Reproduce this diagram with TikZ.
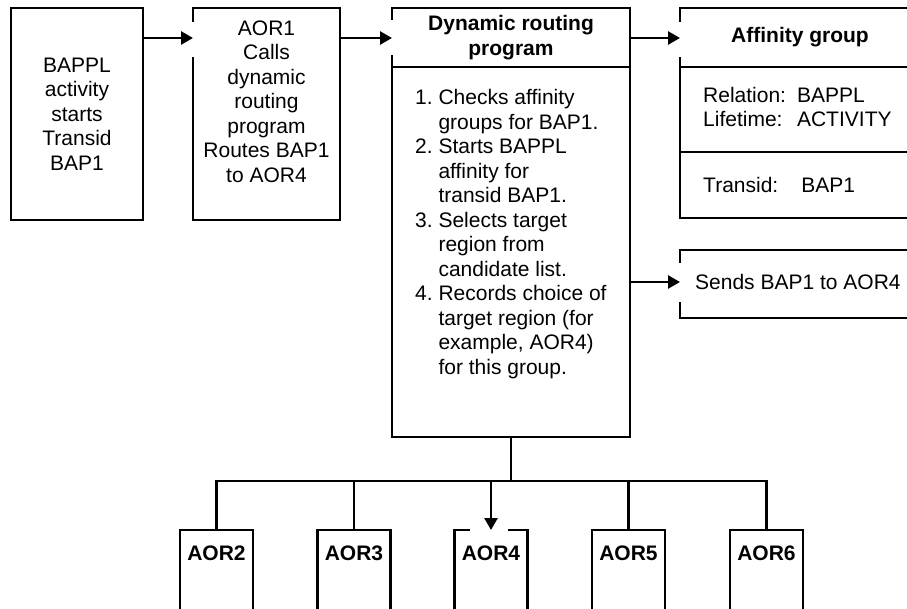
\documentclass[tikz,border=0pt]{standalone}
\usepackage{fontspec}
\setmainfont{Liberation Sans}
\usetikzlibrary{arrows.meta}
\begin{document}
\begin{tikzpicture}[x=1pt,y=-1pt,
  box/.style={draw, line width=2.7pt, outer sep=0pt, inner sep=0pt, anchor=north west},
  txt/.style={font=\fontsize{21}{24.5}\selectfont, inner sep=0pt, align=center},
  btxt/.style={font=\fontsize{21}{24.5}\selectfont\bfseries, inner sep=0pt, align=center},
  arr/.style={line width=2.7pt, -{Triangle[length=12pt,width=13pt]}},
  conn/.style={line width=2.7pt},
  hdr/.style={line width=2.3pt},
  gap/.style={fill=white, draw=none}]
\useasboundingbox (0,0) rectangle (907,609);
\clip (0,0) rectangle (907,609);

% boxes
\node[box, minimum width=132pt, minimum height=212pt] (b1) at (11,8) {};
\node[box, minimum width=147pt, minimum height=212pt] (b2) at (193,8) {};
\node[box, minimum width=238pt, minimum height=429pt] (b3) at (392,8) {};
\node[box, minimum width=300pt, minimum height=210pt] (b4) at (680,8) {};
\node[box, minimum width=300pt, minimum height=68pt] (b5) at (680,250) {};
\node[box, minimum width=73pt, minimum height=120pt] (a2) at (180,530) {};
\node[box, minimum width=73pt, minimum height=120pt] (a3) at (317.5,530) {};
\node[box, minimum width=73pt, minimum height=120pt] (a4) at (454.5,530) {};
\node[box, minimum width=73pt, minimum height=120pt] (a5) at (592,530) {};
\node[box, minimum width=73pt, minimum height=120pt] (a6) at (730,530) {};

% header separators
\draw[hdr] (b3.west |- 0,67) -- (b3.east |- 0,67);
\draw[hdr] (b4.west |- 0,67) -- (b4.east |- 0,67);
\draw[hdr] (b4.west |- 0,152) -- (b4.east |- 0,152);

% texts
\node[txt] (t1) at (77,114) {BAPPL\\activity\\starts\\Transid\\BAP1};
\node[txt] (t2) at (266.5,101.5) {AOR1\\Calls\\dynamic\\routing\\program\\Routes BAP1\\to AOR4};
\node[btxt] (t3) at (511,37.5) {Dynamic routing\\program};
\node[txt, anchor=north west] (l3) at (415,87.4) {\begin{tabular}{@{}l@{\hspace{5.8pt}}l@{}}
1.&Checks affinity\\
 &groups for BAP1.\\
2.&Starts BAPPL\\
 &affinity for\\
 &transid BAP1.\\
3.&Selects target\\
 &region from\\
 &candidate list.\\
4.&Records choice of\\
 &target region (for\\
 &example, AOR4)\\
 &for this group.
\end{tabular}};
\node[btxt] (t4) at (800,37.5) {Affinity group};
\node[txt, anchor=west] (t4b) at (703,109.5) {\begin{tabular}{@{}l@{\hspace{11pt}}l@{}}Relation:&BAPPL\\Lifetime:&ACTIVITY\end{tabular}};
\node[txt, anchor=west] (t4c) at (703,185) {Transid:\hspace{23pt}BAP1};
\node[txt, anchor=west] (t5) at (695,282) {Sends BAP1 to AOR4};
\node[btxt] (l2) at (216.5,553) {AOR2};
\node[btxt] (l3b) at (354,553) {AOR3};
\node[btxt] (l4) at (491,553) {AOR4};
\node[btxt] (l5) at (628.5,553) {AOR5};
\node[btxt] (l6) at (766.5,553) {AOR6};

% gaps where arrows enter
\fill[gap] (189,22) rectangle (197,57);
\fill[gap] (388,20) rectangle (396,55);
\fill[gap] (676,22) rectangle (684,57);
\fill[gap] (676,263) rectangle (684,302);
\fill[gap] (470,526) rectangle (508,534);

% arrows
\draw[arr] (b1.east |- 0,38) -- (b2.west |- 0,38);
\draw[arr] (b2.east |- 0,38) -- (b3.west |- 0,38);
\draw[arr] (b3.east |- 0,38) -- (b4.west |- 0,38);
\draw[arr] (b3.east |- 0,282) -- (b5.west |- 0,282);

% bus to AOR boxes
\coordinate (bus) at (511,481);
\draw[conn] (b3.south) -- (bus);
\draw[conn] (a2.north) |- (a6.north |- bus) -- (a6.north);
\draw[conn] (a3.north |- bus) -- (a3.north);
\draw[conn] (a5.north |- bus) -- (a5.north);
\draw[arr] (a4.north |- bus) -- (a4.north);
\end{tikzpicture}
\end{document}
